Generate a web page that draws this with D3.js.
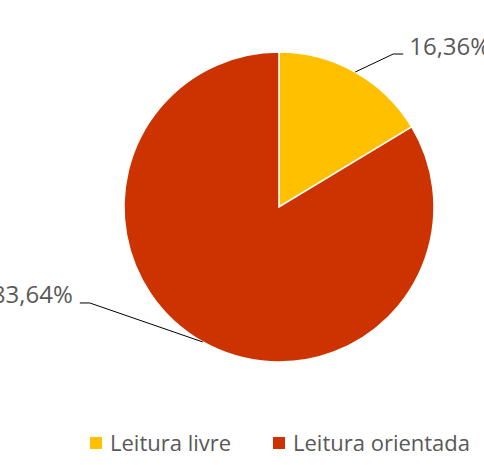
<!DOCTYPE html>
<html>
<head>
<meta charset="utf-8">
<script src="https://cdnjs.cloudflare.com/ajax/libs/d3/7.8.5/d3.min.js"></script>
<style>
  body { margin: 0; background: #fff; }
  text { font-family: "Open Sans", "Noto Sans", sans-serif; fill: #595959; }
</style>
</head>
<body>
<div id="chart"></div>
<script>
var categories = ["Leitura livre", "Leitura orientada"];
var values = [16.36, 83.64];
var labels = ["16,36%", "83,64%"];
var colors = ["#FFC000", "#CC3300"];
// elbow offsets of the leader lines, from the slice edge
var elbow = [[38, -18], [-113, -39]];

var width = 484, height = 465;
var cx = 279, cy = 207, radius = 155;

var svg = d3.select("#chart")
    .append("svg")
    .attr("width", width)
    .attr("height", height);

var data = categories.map(function (c, i) {
    return {name: c, value: values[i], label: labels[i], color: colors[i], off: elbow[i]};
});

var pie = d3.pie()
    .sort(null)
    .value(function (d) { return d.value; });

var arc = d3.arc()
    .innerRadius(0)
    .outerRadius(radius);

var g = svg.append("g")
    .attr("transform", "translate(" + cx + "," + cy + ")");

var arcs = pie(data);

g.selectAll("path")
    .data(arcs)
    .enter()
    .append("path")
    .attr("d", arc)
    .style("fill", function (d) { return d.data.color; })
    .style("stroke", "#fff")
    .style("stroke-width", "1.5px");

// leader lines + labels
arcs.forEach(function (d) {
    var a = (d.startAngle + d.endAngle) / 2;
    var x0 = radius * Math.sin(a), y0 = -radius * Math.cos(a);
    var x1 = x0 + d.data.off[0], y1 = y0 + d.data.off[1];
    var right = x1 > 0;
    var x2 = x1 + (right ? 10 : -10);
    g.append("polyline")
        .attr("points", [[x0, y0], [x1, y1], [x2, y1]].join(" "))
        .style("fill", "none")
        .style("stroke", "#000")
        .style("stroke-width", "1px");
    g.append("text")
        .attr("x", x2 + (right ? 6 : -7))
        .attr("y", y1 + 0.5)
        .attr("text-anchor", right ? "start" : "end")
        .style("font-size", "24px")
        .text(d.data.label);
});

// legend
var legend = svg.append("g")
    .attr("transform", "translate(0,443)");
var legendX = [90, 273];

var items = legend.selectAll("g")
    .data(data)
    .enter()
    .append("g")
    .attr("transform", function (d, i) { return "translate(" + legendX[i] + ",0)"; });

items.append("rect")
    .attr("x", 0)
    .attr("y", -6)
    .attr("width", 12)
    .attr("height", 12)
    .style("fill", function (d) { return d.color; });

items.append("text")
    .attr("x", 20)
    .attr("y", 0)
    .attr("dy", "0.35em")
    .style("font-size", "22px")
    .text(function (d) { return d.name; });
</script>
</body>
</html>
